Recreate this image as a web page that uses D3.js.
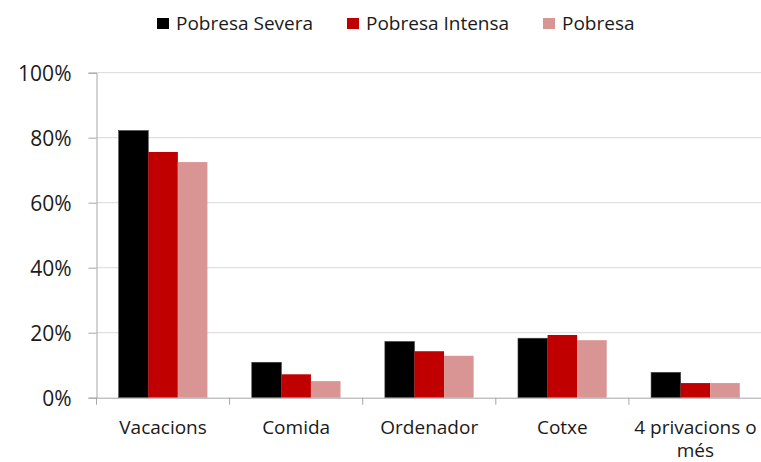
<!DOCTYPE html>
<html><head><meta charset="utf-8">
<script src="https://cdn.jsdelivr.net/npm/d3@7"></script>
<style>html,body{margin:0;padding:0;background:#fff}</style>
</head><body>
<svg id="chart" width="761" height="462"></svg>
<script>
const categories = ["Vacacions", "Comida", "Ordenador", "Cotxe", "4 privacions o més"];
const seriesNames = ["Pobresa Severa", "Pobresa Intensa", "Pobresa"];
const severa = [82.2, 10.9, 17.3, 18.3, 7.8];
const intensa = [75.6, 7.2, 14.3, 19.3, 4.5];
const pobresa = [72.5, 5.1, 12.9, 17.7, 4.5];
const yTicks = [0, 20, 40, 60, 80, 100];
const colors = ["#000000", "#c00000", "#d99594"];

const seriesValues = [severa, intensa, pobresa];
const font = "'Open Sans', 'Noto Sans', sans-serif";
const svg = d3.select("#chart");

const x = d3.scaleBand().domain(categories).range([96.5, 762]).paddingInner(0).paddingOuter(0);
const x1 = d3.scaleBand().domain(seriesNames).range([0, x.bandwidth()]).paddingInner(0).paddingOuter(0.75);
const y = d3.scaleLinear().domain([0, 100]).range([397.7, 72.7]);

// gridlines
svg.append("g").selectAll("line").data(yTicks.filter(d => d > 0)).join("line")
  .attr("x1", 96.5).attr("x2", 762).attr("y1", d => y(d)).attr("y2", d => y(d))
  .attr("stroke", "#d9d9d9").attr("stroke-width", 1);

// bars
const groups = svg.append("g").selectAll("g").data(seriesNames).join("g")
  .attr("fill", (d, i) => colors[i]);
groups.selectAll("rect").data((s, si) => categories.map((c, ci) => ({c, s, v: seriesValues[si][ci]})))
  .join("rect")
  .attr("x", d => x(d.c) + x1(d.s))
  .attr("width", x1.bandwidth())
  .attr("y", d => y(d.v))
  .attr("height", d => y(0) - y(d.v))
  .attr("stroke", d => d.s === seriesNames[0] ? "#404040" : "none")
  .attr("stroke-width", 0.6);

// y axis
const yAxis = d3.axisLeft(y).tickValues(yTicks).tickFormat(d => d + "%").tickSizeOuter(0).tickSize(8).tickPadding(17);
const gy = svg.append("g").attr("transform", "translate(96.5,0)").call(yAxis);
gy.select(".domain").attr("stroke", "#a6a6a6");
gy.selectAll(".tick line").attr("stroke", "#a6a6a6");
gy.selectAll(".tick text").attr("font-family", font).attr("font-size", 21).attr("fill", "#1a1a1a")
  .attr("dy", "0.36em");

// x axis
const xAxis = d3.axisBottom(x).tickSize(0).tickSizeOuter(0).tickFormat("");
const gx = svg.append("g").attr("transform", "translate(0,397.7)").call(xAxis);
gx.select(".domain").attr("stroke", "#a6a6a6");
const boundaries = d3.range(categories.length + 1).map(i => 96.5 + i * x.bandwidth());
gx.append("g").selectAll("line").data(boundaries).join("line")
  .attr("x1", d => d).attr("x2", d => d).attr("y1", 0).attr("y2", 7)
  .attr("stroke", "#a6a6a6");

// x labels with wrapping
const labelLines = c => c === "4 privacions o més" ? ["4 privacions o", "més"] : [c];
const xl = svg.append("g");
categories.forEach(c => {
  const t = xl.append("text").attr("x", x(c) + x.bandwidth() / 2).attr("y", 433.5)
    .attr("text-anchor", "middle").attr("font-family", font).attr("font-size", 19).attr("fill", "#1a1a1a");
  labelLines(c).forEach((ln, i) => {
    t.append("tspan").attr("x", x(c) + x.bandwidth() / 2).attr("dy", i === 0 ? 0 : 23.5).text(ln);
  });
});

// legend
const legendX = [157, 347, 543];
const lg = svg.append("g");
seriesNames.forEach((s, i) => {
  lg.append("rect").attr("x", legendX[i]).attr("y", 18).attr("width", 12).attr("height", 11).attr("fill", colors[i]);
  lg.append("text").attr("x", legendX[i] + 19).attr("y", 30).attr("font-family", font).attr("font-size", 19)
    .attr("fill", "#1a1a1a").text(s);
});
</script>
</body></html>
